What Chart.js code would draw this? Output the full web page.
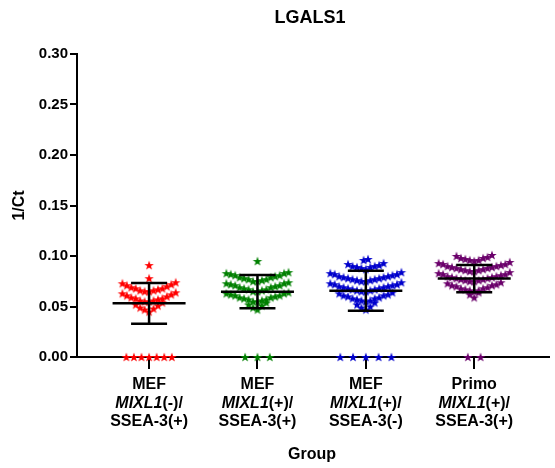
<!DOCTYPE html>
<html>
<head>
<meta charset="utf-8">
<script src="https://cdn.jsdelivr.net/npm/chart.js@4.4.1/dist/chart.umd.min.js"></script>
<style>
  body { margin: 0; background: #fff; }
</style>
</head>
<body>
<canvas id="chart" width="555" height="468"></canvas>
<script>
// category labels (three lines each)
const groupNames = ['MEF', 'MEF', 'MEF', 'Primo'];
const geneName = 'MIXL1';
const mixlStatus = ['(-)/', '(+)/', '(+)/', '(+)/'];
const sseaStatus = ['SSEA-3(+)', 'SSEA-3(+)', 'SSEA-3(-)', 'SSEA-3(+)'];
const groupPos = [1, 2, 3, 4];
const yTicks = [0, 0.05, 0.10, 0.15, 0.20, 0.25, 0.30];

// 1/Ct values per group
const mefNegPos = [
  0.091, 0.078,
  0.065, 0.065, 0.066, 0.066, 0.067, 0.068, 0.068, 0.069, 0.070, 0.071, 0.072, 0.073, 0.074,
  0.055, 0.055, 0.056, 0.056, 0.057, 0.058, 0.058, 0.059, 0.060, 0.061, 0.062, 0.063, 0.064,
  0.045, 0.047, 0.048, 0.049, 0.051, 0.052, 0.054,
  0, 0, 0, 0, 0, 0, 0
];
const mefPosPos = [
  0.095,
  0.075, 0.075, 0.076, 0.077, 0.077, 0.078, 0.079, 0.079, 0.080, 0.081, 0.081, 0.082, 0.083, 0.083, 0.084,
  0.065, 0.065, 0.066, 0.067, 0.067, 0.068, 0.069, 0.069, 0.070, 0.071, 0.071, 0.072, 0.073, 0.073, 0.074,
  0.055, 0.055, 0.056, 0.057, 0.057, 0.058, 0.059, 0.059, 0.060, 0.061, 0.061, 0.062, 0.063, 0.063, 0.064,
  0.047, 0.049, 0.051, 0.052, 0.054,
  0, 0, 0
];
const mefPosNeg = [
  0.096, 0.097,
  0.087, 0.088, 0.089, 0.089, 0.090, 0.090, 0.091, 0.092, 0.093,
  0.075, 0.075, 0.076, 0.076, 0.077, 0.077, 0.078, 0.078, 0.079, 0.079, 0.080, 0.080, 0.081, 0.082, 0.082, 0.083, 0.084,
  0.065, 0.065, 0.066, 0.066, 0.067, 0.067, 0.068, 0.068, 0.069, 0.069, 0.070, 0.070, 0.071, 0.072, 0.072, 0.073, 0.074,
  0.055, 0.056, 0.056, 0.057, 0.058, 0.058, 0.059, 0.060, 0.061, 0.061, 0.062, 0.063, 0.064,
  0.047, 0.049, 0.050, 0.052, 0.054,
  0, 0, 0, 0, 0
];
const primoPosPos = [
  0.095, 0.096, 0.096, 0.097, 0.098, 0.098, 0.099, 0.100, 0.101,
  0.085, 0.085, 0.086, 0.086, 0.087, 0.087, 0.088, 0.088, 0.089, 0.089, 0.090, 0.090, 0.091, 0.092, 0.092, 0.093, 0.094,
  0.075, 0.075, 0.076, 0.076, 0.077, 0.077, 0.078, 0.078, 0.079, 0.079, 0.080, 0.080, 0.081, 0.082, 0.082, 0.083, 0.084,
  0.065, 0.066, 0.066, 0.067, 0.068, 0.068, 0.069, 0.070, 0.071, 0.071, 0.072, 0.073, 0.074,
  0.059, 0.062, 0.064,
  0, 0
];
const groupValues = [mefNegPos, mefPosPos, mefPosNeg, primoPosPos];

// mean and SD shown by the error bars
const means = [0.0531, 0.0647, 0.0655, 0.0776];
const sds = [0.0201, 0.0165, 0.0198, 0.0135];

const colors = ['#ff0000', '#008000', '#0000cc', '#6b006b'];

// scatter layout: values binned into rows, spread sideways around the group
const ROW_H = 0.01, ROW_BASE = 0.005;
const STEP = 0.041;                              // x units between stars in a row
const zeroStep = [0.070, 0.114, 0.118, 0.118];   // wider spacing on the zero row

function spread(values, center, zstep) {
  const rows = {};
  values.forEach(v => {
    const r = v === 0 ? 'z' : Math.floor((v - ROW_BASE) / ROW_H + 1e-9);
    (rows[r] = rows[r] || []).push(v);
  });
  const pts = [];
  Object.keys(rows).forEach(k => {
    const row = rows[k].slice().sort((a, b) => a - b);
    const step = k === 'z' ? zstep : STEP;
    const n = row.length;
    row.forEach((v, i) => {
      let slot;
      if (n % 2) slot = i === 0 ? 0 : Math.ceil(i / 2) * (i % 2 ? -1 : 1);
      else slot = (Math.floor(i / 2) + 0.5) * (i % 2 ? 1 : -1);
      pts.push({ x: center + slot * step, y: v });
    });
  });
  return pts;
}

function starCanvas(color) {
  const c = document.createElement('canvas');
  c.width = 12; c.height = 12;
  const g = c.getContext('2d');
  g.fillStyle = color;
  g.beginPath();
  for (let i = 0; i < 10; i++) {
    const r = i % 2 ? 2.0 : 5.0;
    const a = -Math.PI / 2 + i * Math.PI / 5;
    g.lineTo(6 + r * Math.cos(a), 6.5 + r * Math.sin(a));
  }
  g.closePath();
  g.fill();
  return c;
}

const FONT = "Arial, 'Liberation Sans', sans-serif";

// mean/SD bars plus the text that Chart.js can't style per word
const overlay = {
  id: 'overlay',
  afterDatasetsDraw(chart) {
    const { ctx, scales: { x, y } } = chart;
    ctx.save();
    ctx.strokeStyle = '#000';
    ctx.lineWidth = 2.5;
    groupPos.forEach((g, i) => {
      const cx = x.getPixelForValue(g);
      const m = y.getPixelForValue(means[i]);
      const hi = y.getPixelForValue(means[i] + sds[i]);
      const lo = y.getPixelForValue(means[i] - sds[i]);
      ctx.beginPath();
      ctx.moveTo(cx - 36.5, m); ctx.lineTo(cx + 36.5, m);
      ctx.moveTo(cx - 18, hi); ctx.lineTo(cx + 18, hi);
      ctx.moveTo(cx - 18, lo); ctx.lineTo(cx + 18, lo);
      ctx.moveTo(cx, hi); ctx.lineTo(cx, lo);
      ctx.stroke();
    });
    ctx.restore();
  },
  afterDraw(chart) {
    const { ctx, chartArea: area, scales: { x } } = chart;
    const mid = (area.left + area.right) / 2;
    ctx.save();
    ctx.fillStyle = '#000';
    ctx.textBaseline = 'middle';

    ctx.textAlign = 'center';
    ctx.font = 'bold 18px ' + FONT;
    ctx.fillText('LGALS1', mid - 3, 18);

    ctx.font = 'bold 16px ' + FONT;
    groupPos.forEach((g, i) => {
      const cx = x.getPixelForValue(g);
      ctx.textAlign = 'center';
      ctx.font = 'bold 16px ' + FONT;
      ctx.fillText(groupNames[i], cx, 385);
      ctx.fillText(sseaStatus[i], cx, 422);

      ctx.font = 'italic bold 16px ' + FONT;
      const w1 = ctx.measureText(geneName).width;
      ctx.font = 'bold 16px ' + FONT;
      const w2 = ctx.measureText(mixlStatus[i]).width;
      const start = cx - (w1 + w2) / 2;
      ctx.textAlign = 'left';
      ctx.font = 'italic bold 16px ' + FONT;
      ctx.fillText(geneName, start, 403.5);
      ctx.font = 'bold 16px ' + FONT;
      ctx.fillText(mixlStatus[i], start + w1, 403.5);
    });

    ctx.textAlign = 'center';
    ctx.font = 'bold 16px ' + FONT;
    ctx.fillText('Group', mid - 1, 455);

    ctx.translate(20, (area.top + area.bottom) / 2);
    ctx.rotate(-Math.PI / 2);
    ctx.fillText('1/Ct', 0, 0);
    ctx.restore();
  }
};

const datasets = groupValues.map((vals, i) => ({
  label: groupNames[i] + ' ' + geneName + mixlStatus[i] + sseaStatus[i],
  data: spread(vals, groupPos[i], zeroStep[i]),
  pointStyle: starCanvas(colors[i]),
  pointRadius: 5,
  showLine: false,
  clip: false
}));

new Chart(document.getElementById('chart'), {
  type: 'scatter',
  data: { datasets },
  options: {
    responsive: false,
    animation: false,
    layout: { padding: { top: 54, right: 0, left: 0, bottom: 0 } },
    plugins: {
      legend: { display: false },
      tooltip: { enabled: false }
    },
    scales: {
      x: {
        type: 'linear',
        min: 0.335,
        max: 4.69,
        afterBuildTicks: (scale) => { scale.ticks = groupPos.map(v => ({ value: v })); },
        afterFit: (scale) => { scale.height = 111; },
        ticks: { display: false },
        grid: { drawOnChartArea: false, drawTicks: true, tickLength: 12, color: '#000', lineWidth: 2 },
        border: { color: '#000', width: 2 }
      },
      y: {
        min: 0,
        max: 0.3,
        afterBuildTicks: (scale) => { scale.ticks = yTicks.map(v => ({ value: v })); },
        afterFit: (scale) => { scale.width = 77; },
        ticks: {
          color: '#000',
          padding: 2,
          font: { family: FONT, size: 15, weight: 'bold' },
          callback: (v) => Number(v).toFixed(2)
        },
        grid: { drawOnChartArea: false, drawTicks: true, tickLength: 7, color: '#000', lineWidth: 2 },
        border: { color: '#000', width: 2 }
      }
    }
  },
  plugins: [overlay]
});
</script>
</body>
</html>
